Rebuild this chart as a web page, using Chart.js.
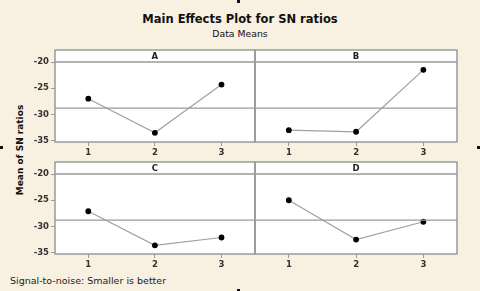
<!DOCTYPE html>
<html>
<head>
<meta charset="utf-8">
<script src="https://cdn.jsdelivr.net/npm/chart.js@4"></script>
<style>
  body { margin: 0; }
  #wrap { position: relative; width: 480px; height: 291px; background: #f8f0e0; overflow: hidden; font-family: "DejaVu Sans", sans-serif; color: #111; }
  canvas { position: absolute; }
  .txt { position: absolute; white-space: nowrap; }
  .handle { position: absolute; background: #111; width: 3px; height: 3px; }
</style>
</head>
<body>
<div id="wrap">
  <div class="txt" id="title" style="left:0; width:480px; top:12px; text-align:center; font-weight:bold; font-size:11.5px;">Main Effects Plot for SN ratios</div>
  <div class="txt" style="left:0; width:480px; top:28px; text-align:center; font-size:9.3px;">Data Means</div>
  <div class="txt" style="left:-30px; top:145px; width:100px; text-align:center; font-weight:bold; font-size:9px; transform:rotate(-90deg);">Mean of SN ratios</div>
  <div class="txt" style="left:10px; top:275px; font-size:9.5px; color:#222;">Signal-to-noise: Smaller is better</div>
  <canvas id="panelA" width="260" height="120" style="left:0; top:40px;"></canvas>
  <canvas id="panelB" width="230" height="120" style="left:250px; top:40px;"></canvas>
  <canvas id="panelC" width="260" height="120" style="left:0; top:152px;"></canvas>
  <canvas id="panelD" width="230" height="120" style="left:250px; top:152px;"></canvas>
  <div class="handle" style="left:0; top:146px;"></div>
  <div class="handle" style="left:477px; top:146px;"></div>
  <div class="handle" style="left:237px; top:0;"></div>
  <div class="handle" style="left:237px; top:289px;"></div>
</div>
<script>
// levels and mean SN ratios per factor
const levels = [1, 2, 3];
const factorA = [-27.0, -33.5, -24.3];
const factorB = [-33.0, -33.3, -21.5];
const factorC = [-27.1, -33.6, -32.1];
const factorD = [-25.0, -32.5, -29.1];
const overallMean = -28.8;
const yTicks = [-35, -30, -25, -20];

const gray = "#9a9a9a";
const tickFont = { family: "DejaVu Sans", size: 8.5, weight: "bold" };

// white plot area, border and the factor strip on top
const panelFrame = {
  id: "panelFrame",
  beforeDatasetsDraw(chart) {
    const { ctx, chartArea: a } = chart;
    ctx.save();
    ctx.fillStyle = "#ffffff";
    ctx.fillRect(a.left, a.top, a.right - a.left, a.bottom - a.top);
    ctx.restore();
  },
  afterDraw(chart, args, opts) {
    const { ctx, chartArea: a } = chart;
    const stripH = 12;
    ctx.save();
    ctx.fillStyle = "#ffffff";
    ctx.fillRect(a.left, a.top - stripH, a.right - a.left, stripH);
    ctx.strokeStyle = gray;
    ctx.lineWidth = 1.5;
    ctx.strokeRect(a.left, a.top - stripH, a.right - a.left, a.bottom - a.top + stripH);
    ctx.beginPath();
    ctx.moveTo(a.left, a.top);
    ctx.lineTo(a.right, a.top);
    ctx.stroke();
    ctx.fillStyle = "#222";
    ctx.font = "bold 8.5px 'DejaVu Sans'";
    ctx.textAlign = "center";
    ctx.textBaseline = "middle";
    ctx.fillText(opts.label, (a.left + a.right) / 2, a.top - stripH / 2 + 0.5);
    ctx.restore();
  }
};

function makePanel(canvasId, label, values, showY) {
  const ctx = document.getElementById(canvasId).getContext("2d");
  return new Chart(ctx, {
    type: "line",
    data: {
      datasets: [
        {
          data: [{ x: 0.5, y: overallMean }, { x: 3.5, y: overallMean }],
          borderColor: gray,
          borderWidth: 1.2,
          pointRadius: 0
        },
        {
          data: levels.map((lv, i) => ({ x: lv, y: values[i] })),
          borderColor: "#a0a0a0",
          borderWidth: 1.2,
          pointRadius: 2.3,
          pointBackgroundColor: "#000",
          pointBorderColor: "#000"
        }
      ]
    },
    options: {
      responsive: false,
      animation: false,
      layout: { padding: { top: 22, right: showY ? 4 : 23, left: 0, bottom: 0 } },
      plugins: {
        legend: { display: false },
        tooltip: { enabled: false },
        panelFrame: { label: label }
      },
      scales: {
        x: {
          type: "linear",
          min: 0.5,
          max: 3.5,
          afterBuildTicks(scale) { scale.ticks = levels.map((v) => ({ value: v })); },
          afterFit(scale) { scale.height = 18; },
          grid: { drawOnChartArea: false, drawTicks: true, tickLength: 4, color: gray },
          border: { display: false },
          ticks: { font: tickFont, color: "#333", padding: 2 }
        },
        y: {
          display: showY,
          min: -35.25,
          max: -20,
          afterBuildTicks(scale) { scale.ticks = yTicks.map((v) => ({ value: v })); },
          afterFit(scale) { scale.width = showY ? 55 : 0; },
          grid: { drawOnChartArea: false, drawTicks: true, tickLength: 4, color: gray },
          border: { display: false },
          ticks: { font: tickFont, color: "#333", padding: 2 }
        }
      }
    },
    plugins: [panelFrame]
  });
}

makePanel("panelA", "A", factorA, true);
makePanel("panelB", "B", factorB, false);
makePanel("panelC", "C", factorC, true);
makePanel("panelD", "D", factorD, false);
</script>
</body>
</html>
